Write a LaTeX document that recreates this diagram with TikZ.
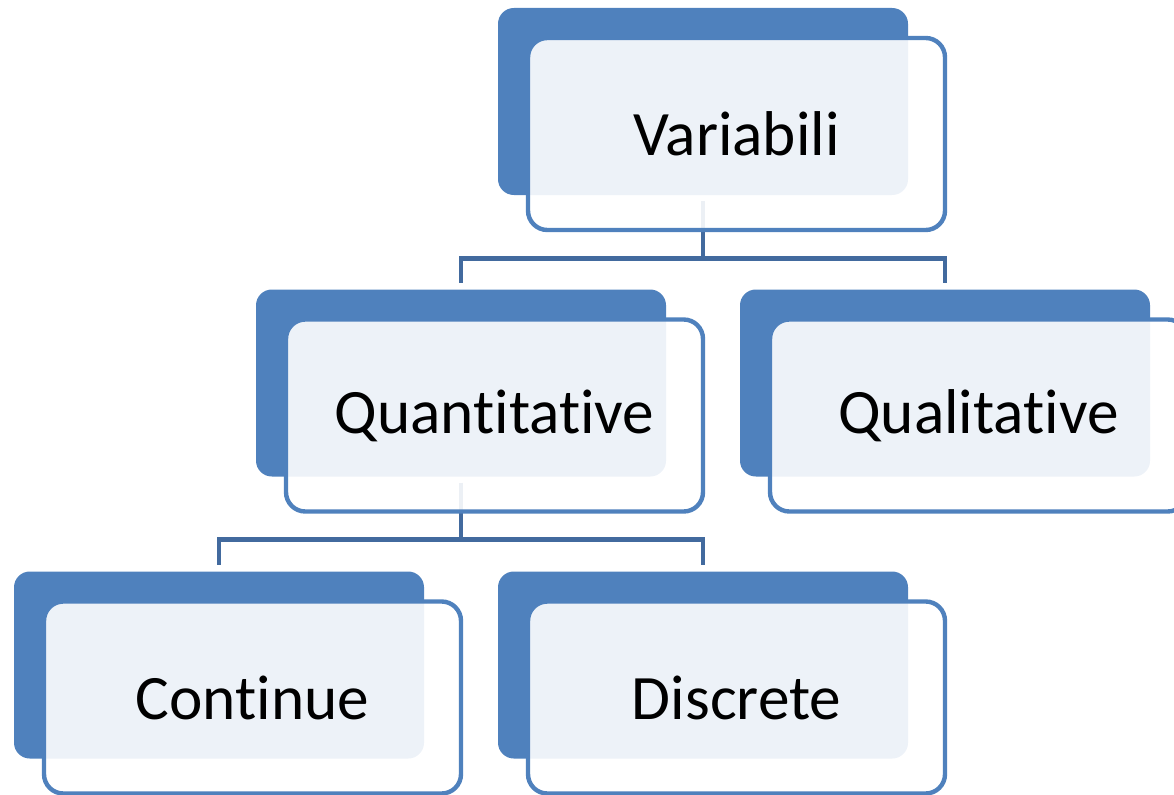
\documentclass[tikz,border=0pt]{standalone}
\usepackage{fontspec}
\setmainfont[Ligatures=NoCommon]{Carlito}
\definecolor{boxblue}{RGB}{79, 129, 189}
\definecolor{lineblue}{RGB}{66, 106, 158}
\usepackage{tikz}
\usetikzlibrary{positioning, calc}

\begin{document}
\begin{tikzpicture}[
  backbox/.style={fill=boxblue, rounded corners=9pt, minimum width=8.2cm, minimum height=3.74cm, inner sep=0pt},
  frontbox/.style={draw=boxblue, line width=2.5pt, fill=white, fill opacity=0.9, text opacity=1, rounded corners=11pt,
    minimum width=8.34cm, minimum height=3.84cm, inner sep=0pt, font=\fontsize{36}{44}\selectfont},
  conn/.style={draw=lineblue, line width=2.8pt, shorten <=0.12cm, shorten >=0.12cm}
]
  \useasboundingbox (0,0) rectangle (23.48,-15.88);

  % Back boxes
  \node[backbox] (varB) at (14.06, -2.03) {};
  \node[backbox] (quantB) at (9.22, -7.66) {};
  \node[backbox] (qualB) at (18.9, -7.66) {};
  \node[backbox] (contB) at (4.38, -13.3) {};
  \node[backbox] (discB) at (14.06, -13.3) {};

  % Connectors
  \draw[conn] (varB.south) -- ++(0,-1.26) -| (quantB.north);
  \draw[conn] (varB.south) -- ++(0,-1.26) -| (qualB.north);
  \draw[conn] (quantB.south) -- ++(0,-1.26) -| (contB.north);
  \draw[conn] (quantB.south) -- ++(0,-1.26) -| (discB.north);

  % Front boxes with labels
  \node[frontbox] (var) at ($(varB.center)+(0.67,-0.65)$) {Variabili};
  \node[frontbox] (quant) at ($(quantB.center)+(0.67,-0.65)$) {Quantitative};
  \node[frontbox] (qual) at ($(qualB.center)+(0.67,-0.65)$) {Qualitative};
  \node[frontbox] (cont) at ($(contB.center)+(0.67,-0.65)$) {Continue};
  \node[frontbox] (disc) at ($(discB.center)+(0.67,-0.65)$) {Discrete};
\end{tikzpicture}
\end{document}
